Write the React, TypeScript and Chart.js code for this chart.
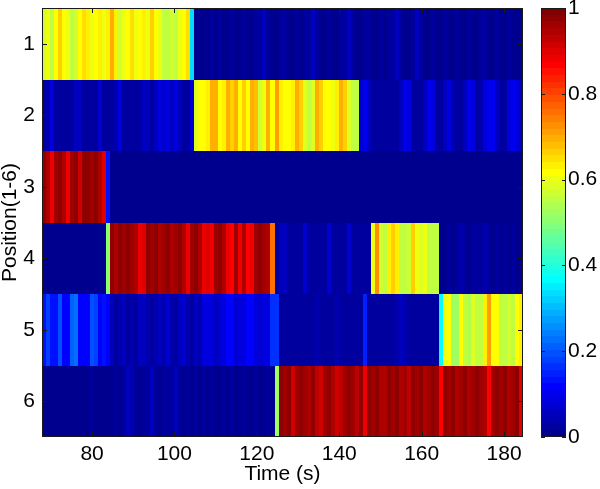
import React, { useEffect, useRef } from 'react';
import { Chart, registerables } from 'chart.js';

Chart.register(...registerables);

// ---- data ----
const X_MIN = 67.85;
const X_MAX = 184.6;
const T0 = 67.85; // start time of first sample column (s)
const DT = 0.973; // sample width (s)
const X_TICKS = [80, 100, 120, 140, 160, 180];
const POSITIONS = [1, 2, 3, 4, 5, 6];
const CB_TICKS = [0, 0.2, 0.4, 0.6, 0.8, 1];
const X_TITLE = 'Time (s)';
const Y_TITLE = 'Position(1-6)';

const ROW1 = [
  0.57, 0.60, 0.55, 0.62, 0.67, 0.62, 0.60, 0.55, 0.57, 0.62,
  0.65, 0.63, 0.60, 0.61, 0.63, 0.60, 0.64, 0.70, 0.63, 0.57,
  0.60, 0.62, 0.65, 0.60, 0.61, 0.63, 0.60, 0.67, 0.62, 0.60,
  0.56, 0.55, 0.57, 0.55, 0.60, 0.62, 0.65, 0.34, 0.01, 0.01,
  0.01, 0.01, 0.02, 0.01, 0.03, 0.01, 0.01, 0.02, 0.01, 0.01,
  0.02, 0.01, 0.01, 0.02, 0.02, 0.05, 0.02, 0.01, 0.01, 0.02,
  0.02, 0.01, 0.01, 0.02, 0.01, 0.02, 0.03, 0.06, 0.02, 0.01,
  0.01, 0.02, 0.01, 0.01, 0.02, 0.03, 0.05, 0.02, 0.01, 0.01,
  0.02, 0.03, 0.01, 0.01, 0.02, 0.01, 0.02, 0.02, 0.06, 0.02,
  0.01, 0.01, 0.02, 0.05, 0.02, 0.01, 0.01, 0.02, 0.01, 0.01,
  0.02, 0.01, 0.01, 0.02, 0.01, 0.01, 0.02, 0.01, 0.01, 0.02,
  0.03, 0.01, 0.01, 0.02, 0.01, 0.01, 0.02, 0.01, 0.01, 0.01,
];
const ROW2 = [
  0.02, 0.04, 0.08, 0.03, 0.02, 0.02, 0.03, 0.02, 0.06, 0.05,
  0.02, 0.03, 0.02, 0.03, 0.07, 0.02, 0.02, 0.03, 0.04, 0.08,
  0.03, 0.02, 0.02, 0.03, 0.02, 0.06, 0.05, 0.02, 0.06, 0.08,
  0.07, 0.09, 0.06, 0.08, 0.05, 0.02, 0.03, 0.07, 0.58, 0.62,
  0.62, 0.64, 0.70, 0.69, 0.62, 0.63, 0.69, 0.67, 0.70, 0.62,
  0.67, 0.62, 0.70, 0.68, 0.57, 0.60, 0.70, 0.62, 0.71, 0.63,
  0.62, 0.61, 0.63, 0.70, 0.67, 0.58, 0.56, 0.58, 0.70, 0.67,
  0.62, 0.61, 0.60, 0.63, 0.70, 0.67, 0.58, 0.56, 0.55, 0.07,
  0.10, 0.06, 0.02, 0.02, 0.03, 0.02, 0.03, 0.03, 0.02, 0.06,
  0.10, 0.09, 0.03, 0.02, 0.03, 0.06, 0.10, 0.09, 0.03, 0.02,
  0.06, 0.09, 0.04, 0.02, 0.03, 0.06, 0.10, 0.09, 0.03, 0.04,
  0.08, 0.10, 0.10, 0.06, 0.03, 0.02, 0.08, 0.10, 0.09, 0.05,
];
const ROW3 = [
  0.97, 0.95, 0.89, 0.96, 0.98, 0.95, 0.89, 0.96, 0.97, 0.91,
  0.97, 0.98, 0.96, 0.97, 0.95, 0.90, 0.14, 0.01, 0.01, 0.01,
  0.01, 0.01, 0.01, 0.01, 0.01, 0.01, 0.01, 0.01, 0.01, 0.01,
  0.01, 0.01, 0.01, 0.01, 0.01, 0.01, 0.01, 0.01, 0.01, 0.01,
  0.01, 0.01, 0.01, 0.01, 0.01, 0.01, 0.01, 0.01, 0.01, 0.01,
  0.01, 0.01, 0.01, 0.01, 0.01, 0.01, 0.01, 0.01, 0.01, 0.01,
  0.01, 0.01, 0.01, 0.01, 0.01, 0.01, 0.01, 0.01, 0.01, 0.01,
  0.01, 0.01, 0.01, 0.01, 0.01, 0.01, 0.01, 0.01, 0.01, 0.01,
  0.01, 0.01, 0.01, 0.01, 0.01, 0.01, 0.01, 0.01, 0.01, 0.01,
  0.01, 0.01, 0.01, 0.01, 0.01, 0.01, 0.01, 0.01, 0.01, 0.01,
  0.01, 0.01, 0.01, 0.01, 0.01, 0.01, 0.01, 0.01, 0.01, 0.01,
  0.01, 0.01, 0.01, 0.01, 0.01, 0.01, 0.01, 0.01, 0.01, 0.01,
];
const ROW4 = [
  0.01, 0.01, 0.01, 0.01, 0.01, 0.01, 0.01, 0.01, 0.01, 0.01,
  0.01, 0.01, 0.01, 0.01, 0.01, 0.01, 0.51, 0.97, 0.95, 0.97,
  0.96, 0.97, 0.96, 0.95, 0.89, 0.90, 0.97, 0.96, 0.97, 0.95,
  0.96, 0.97, 0.95, 0.96, 0.97, 0.95, 0.89, 0.96, 0.97, 0.95,
  0.88, 0.90, 0.89, 0.96, 0.97, 0.95, 0.88, 0.87, 0.96, 0.88,
  0.95, 0.87, 0.88, 0.96, 0.97, 0.96, 0.95, 0.76, 0.02, 0.06,
  0.05, 0.02, 0.02, 0.02, 0.03, 0.07, 0.03, 0.02, 0.02, 0.02,
  0.03, 0.07, 0.03, 0.02, 0.02, 0.03, 0.07, 0.03, 0.02, 0.02,
  0.03, 0.02, 0.60, 0.73, 0.57, 0.56, 0.64, 0.66, 0.63, 0.56,
  0.55, 0.57, 0.67, 0.60, 0.58, 0.60, 0.56, 0.55, 0.56, 0.01,
  0.01, 0.02, 0.01, 0.02, 0.04, 0.02, 0.01, 0.02, 0.02, 0.03,
  0.04, 0.02, 0.01, 0.02, 0.01, 0.02, 0.01, 0.02, 0.01, 0.01,
];
const ROW5 = [
  0.14, 0.18, 0.14, 0.13, 0.19, 0.12, 0.11, 0.21, 0.22, 0.12,
  0.11, 0.12, 0.19, 0.18, 0.12, 0.13, 0.11, 0.05, 0.03, 0.04,
  0.06, 0.03, 0.04, 0.03, 0.05, 0.06, 0.04, 0.03, 0.04, 0.05,
  0.04, 0.07, 0.04, 0.03, 0.05, 0.07, 0.04, 0.03, 0.05, 0.04,
  0.08, 0.09, 0.08, 0.06, 0.07, 0.08, 0.12, 0.11, 0.07, 0.08,
  0.09, 0.12, 0.11, 0.08, 0.07, 0.08, 0.09, 0.16, 0.17, 0.02,
  0.03, 0.02, 0.02, 0.03, 0.02, 0.02, 0.03, 0.02, 0.04, 0.02,
  0.02, 0.03, 0.02, 0.04, 0.02, 0.02, 0.02, 0.03, 0.02, 0.02,
  0.15, 0.02, 0.02, 0.02, 0.03, 0.02, 0.02, 0.02, 0.04, 0.05,
  0.04, 0.02, 0.02, 0.02, 0.03, 0.02, 0.02, 0.02, 0.02, 0.36,
  0.60, 0.62, 0.53, 0.52, 0.61, 0.55, 0.54, 0.58, 0.55, 0.56,
  0.63, 0.71, 0.62, 0.61, 0.56, 0.55, 0.57, 0.55, 0.62, 0.63,
];
const ROW6 = [
  0.01, 0.01, 0.01, 0.01, 0.01, 0.01, 0.01, 0.01, 0.01, 0.01,
  0.01, 0.01, 0.02, 0.01, 0.01, 0.01, 0.01, 0.01, 0.02, 0.01,
  0.02, 0.05, 0.04, 0.02, 0.01, 0.02, 0.02, 0.05, 0.02, 0.01,
  0.02, 0.02, 0.03, 0.05, 0.02, 0.01, 0.02, 0.01, 0.02, 0.01,
  0.03, 0.01, 0.02, 0.01, 0.01, 0.03, 0.01, 0.02, 0.01, 0.01,
  0.02, 0.01, 0.01, 0.02, 0.01, 0.01, 0.02, 0.01, 0.53, 0.97,
  0.96, 0.97, 0.92, 0.96, 0.97, 0.96, 0.95, 0.97, 0.93, 0.92,
  0.96, 0.97, 0.95, 0.92, 0.93, 0.96, 0.97, 0.96, 0.93, 0.97,
  0.88, 0.97, 0.96, 0.97, 0.95, 0.94, 0.97, 0.96, 0.97, 0.95,
  0.96, 0.93, 0.97, 0.96, 0.97, 0.95, 0.96, 0.97, 0.96, 0.87,
  0.97, 0.96, 0.97, 0.95, 0.96, 0.97, 0.94, 0.96, 0.97, 0.96,
  0.95, 0.87, 0.96, 0.97, 0.96, 0.97, 0.95, 0.96, 0.97, 0.90,
];

// ---- MATLAB jet(64) colormap ----
function buildJet(m = 64): string[] {
  const n = Math.ceil(m / 4);
  const u: number[] = [];
  for (let i = 1; i <= n; i++) u.push(i / n);
  for (let i = 0; i < n - 1; i++) u.push(1);
  for (let i = n; i >= 1; i--) u.push(i / n);
  const gOff = Math.ceil(n / 2) - (m % 4 === 1 ? 1 : 0);
  const get = (k: number) => (k >= 1 && k <= u.length ? u[k - 1] : 0);
  const out: string[] = [];
  for (let j = 1; j <= m; j++) {
    const g = get(j - gOff);
    const r = get(j - gOff - n);
    const b = get(j - gOff + n);
    out.push(`rgb(${Math.round(r * 255)},${Math.round(g * 255)},${Math.round(b * 255)})`);
  }
  return out;
}
const JET = buildJet(64);
function colorFor(v: number): string {
  let j = Math.floor(v * JET.length);
  if (j < 0) j = 0;
  if (j > JET.length - 1) j = JET.length - 1;
  return JET[j];
}

const FONT_FAMILY = "'Liberation Sans', Arial, Helvetica, sans-serif";
const AXIS_COLOR = '#1a1a1a';

function noPad(s: any) {
  s.paddingTop = 0;
  s.paddingBottom = 0;
  s.paddingLeft = 0;
  s.paddingRight = 0;
}

export default function App() {
  const ref = useRef<HTMLCanvasElement | null>(null);

  useEffect(() => {
    if (!ref.current) return;
    const rows = [ROW1, ROW2, ROW3, ROW4, ROW5, ROW6];

    const heatPlugin = {
      id: 'heatmap',
      beforeDatasetsDraw(chart: any) {
        const { ctx, chartArea } = chart;
        const xs = chart.scales.x;
        const ys = chart.scales.y;
        ctx.save();
        ctx.beginPath();
        ctx.rect(chartArea.left, chartArea.top, chartArea.right - chartArea.left, chartArea.bottom - chartArea.top);
        ctx.clip();
        rows.forEach((vals, r) => {
          const pos = POSITIONS[r];
          const ya = Math.round(ys.getPixelForValue(pos - 0.5));
          const yb = Math.round(ys.getPixelForValue(pos + 0.5));
          const top = Math.min(ya, yb);
          const h = Math.abs(yb - ya);
          vals.forEach((v, i) => {
            const xa = Math.round(xs.getPixelForValue(T0 + i * DT));
            const xb = Math.round(xs.getPixelForValue(T0 + (i + 1) * DT));
            ctx.fillStyle = colorFor(v);
            ctx.fillRect(xa, top, xb - xa, h);
          });
        });
        ctx.restore();
      },
      afterDraw(chart: any) {
        const { ctx, chartArea } = chart;
        const xs = chart.scales.x;
        const ys = chart.scales.y;
        const cb = chart.scales.cb;
        const L = chartArea.left, R = chartArea.right, T = chartArea.top, B = chartArea.bottom;
        ctx.save();
        ctx.strokeStyle = AXIS_COLOR;
        ctx.lineWidth = 1;
        const tl = 5;
        ctx.beginPath();
        X_TICKS.forEach((t) => {
          const px = Math.round(xs.getPixelForValue(t)) + 0.5;
          ctx.moveTo(px, B); ctx.lineTo(px, B - tl);
          ctx.moveTo(px, T); ctx.lineTo(px, T + tl);
        });
        POSITIONS.forEach((p) => {
          const py = Math.round(ys.getPixelForValue(p)) + 0.5;
          ctx.moveTo(L, py); ctx.lineTo(L + tl, py);
          ctx.moveTo(R, py); ctx.lineTo(R - tl, py);
        });
        ctx.stroke();
        ctx.strokeRect(Math.round(L) + 0.5, Math.round(T) + 0.5, Math.round(R - L) - 1, Math.round(B - T) - 1);

        // colorbar
        const cbL = Math.round(R + 18);
        const cbW = 25;
        for (let k = 0; k < JET.length; k++) {
          const ya = Math.round(cb.getPixelForValue(k / JET.length));
          const yb = Math.round(cb.getPixelForValue((k + 1) / JET.length));
          ctx.fillStyle = JET[k];
          ctx.fillRect(cbL, yb, cbW, ya - yb);
        }
        ctx.beginPath();
        CB_TICKS.forEach((v) => {
          const py = Math.round(cb.getPixelForValue(v)) + 0.5;
          ctx.moveTo(cbL, py); ctx.lineTo(cbL + 4, py);
          ctx.moveTo(cbL + cbW, py); ctx.lineTo(cbL + cbW - 4, py);
        });
        ctx.stroke();
        ctx.strokeRect(cbL + 0.5, Math.round(T) + 0.5, cbW - 1, Math.round(B - T) - 1);
        ctx.restore();
      },
    };

    const font = { family: FONT_FAMILY, size: 21 };

    const chart = new Chart(ref.current, {
      type: 'scatter',
      data: { datasets: [{ data: [] as any[] }] },
      options: {
        animation: false,
        responsive: false,
        events: [],
        layout: { padding: { top: 8, left: 0, right: 0, bottom: 0 } },
        plugins: { legend: { display: false }, tooltip: { enabled: false } },
        scales: {
          x: {
            type: 'linear',
            min: X_MIN,
            max: X_MAX,
            afterBuildTicks: (s: any) => { s.ticks = X_TICKS.map((v) => ({ value: v })); },
            afterFit: (s: any) => { s.height = 52; noPad(s); },
            grid: { display: false, drawTicks: false },
            border: { display: false },
            ticks: { font, color: '#000', padding: 5, maxRotation: 0, autoSkip: false, callback: (v: any) => String(v) },
            title: { display: true, text: X_TITLE, font: { ...font, lineHeight: 1.2 }, color: '#000', padding: { top: 0, bottom: 2 } },
          },
          y: {
            type: 'linear',
            reverse: true,
            min: 0.5,
            max: 6.5,
            afterBuildTicks: (s: any) => { s.ticks = POSITIONS.map((v) => ({ value: v })); },
            afterFit: (s: any) => { s.width = 42; noPad(s); },
            grid: { display: false, drawTicks: false },
            border: { display: false },
            ticks: { font, color: '#000', padding: 7, autoSkip: false, callback: (v: any) => String(v) },
            title: { display: true, text: Y_TITLE, font: { ...font, lineHeight: 1.0 }, color: '#000', padding: { top: 0, bottom: 0 } },
          },
          cb: {
            type: 'linear',
            axis: 'y',
            position: 'right',
            min: 0,
            max: 1,
            afterBuildTicks: (s: any) => { s.ticks = CB_TICKS.map((v) => ({ value: v })); },
            afterFit: (s: any) => { s.width = 77; noPad(s); },
            grid: { display: false, drawTicks: false },
            border: { display: false },
            ticks: { font, color: '#000', padding: 45, autoSkip: false, callback: (v: any) => String(Math.round(Number(v) * 10) / 10) },
          },
        },
      } as any,
      plugins: [heatPlugin],
    });
    return () => chart.destroy();
  }, []);

  return (
    <div style={{ position: 'fixed', left: 0, top: 0, width: 600, height: 489, background: '#fff' }}>
      <canvas ref={ref} width={600} height={489} style={{ display: 'block' }} />
    </div>
  );
}
